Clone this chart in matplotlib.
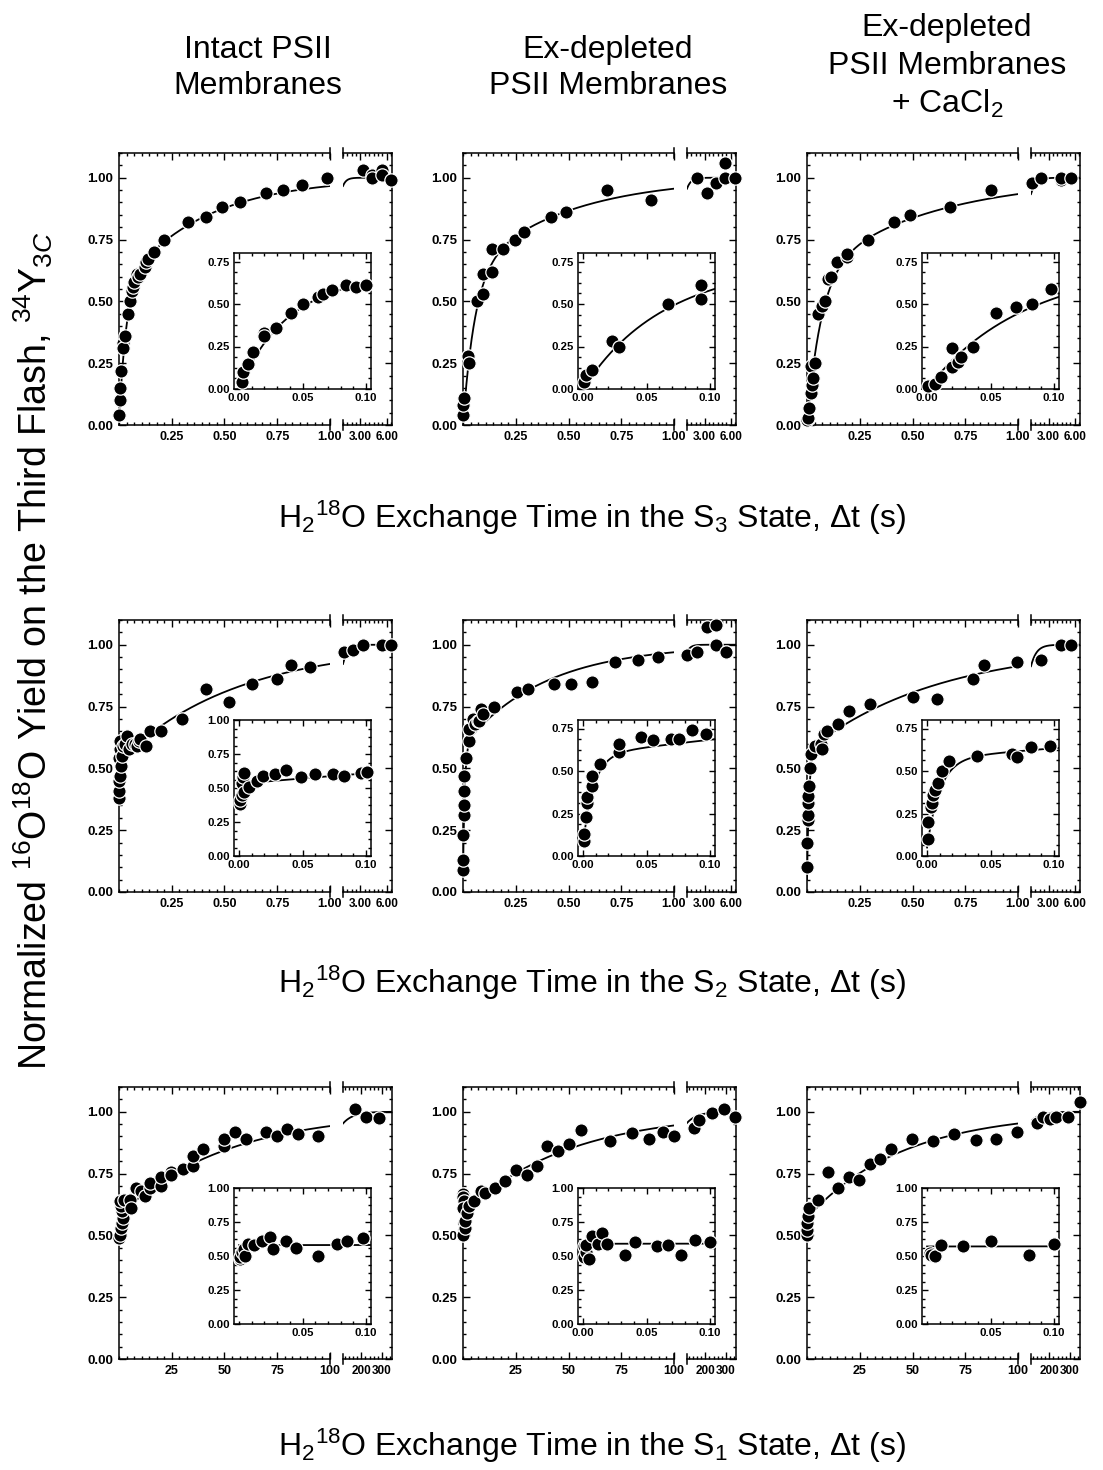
import matplotlib
matplotlib.use("Agg")
from matplotlib import pyplot as plt
from matplotlib.ticker import MultipleLocator
import numpy as np

plt.rcParams["font.family"] = ["Liberation Sans", "DejaVu Sans"]
plt.rcParams["mathtext.fontset"] = "custom"
plt.rcParams["mathtext.rm"] = "Liberation Sans"
plt.rcParams["mathtext.it"] = "Liberation Sans:italic"
plt.rcParams["mathtext.bf"] = "Liberation Sans:bold"

# ---- data ----
# S3 state, intact PSII
s3_int_ins_t = [0.002, 0.003, 0.007, 0.011, 0.020, 0.020, 0.029, 0.041, 0.050, 0.062, 0.066, 0.073, 0.084, 0.092, 0.100]
s3_int_ins_y = [0.04, 0.10, 0.15, 0.22, 0.33, 0.31, 0.36, 0.45, 0.50, 0.54, 0.56, 0.58, 0.61, 0.60, 0.61]
s3_int_t = [0.122, 0.130, 0.138, 0.165, 0.212, 0.328, 0.410, 0.490, 0.573, 0.696, 0.778, 0.869, 0.987,
            3.24, 4.36, 4.36, 5.44, 5.44, 6.52]
s3_int_y = [0.64, 0.66, 0.67, 0.70, 0.75, 0.82, 0.84, 0.88, 0.90, 0.94, 0.95, 0.97, 1.00,
            1.03, 1.01, 1.00, 1.03, 1.01, 0.99]
# S3 state, Ex-depleted
s3_ex_ins_t = [0.001, 0.002, 0.007, 0.023, 0.028, 0.067, 0.093, 0.093]
s3_ex_ins_y = [0.04, 0.08, 0.11, 0.28, 0.25, 0.50, 0.61, 0.53]
s3_ex_t = [0.138, 0.138, 0.190, 0.245, 0.291, 0.415, 0.489, 0.684, 0.889,
           2.16, 3.24, 4.28, 5.36, 5.36, 6.52]
s3_ex_y = [0.62, 0.71, 0.71, 0.75, 0.78, 0.84, 0.86, 0.95, 0.91,
           1.00, 0.94, 0.98, 1.00, 1.06, 1.00]
# S3 state, Ex-depleted + CaCl2
s3_ca_ins_t = [0.001, 0.006, 0.011, 0.020, 0.020, 0.024, 0.027, 0.036, 0.054, 0.070, 0.083, 0.098]
s3_ca_ins_y = [0.02, 0.03, 0.07, 0.24, 0.13, 0.16, 0.19, 0.25, 0.45, 0.48, 0.50, 0.59]
s3_ca_t = [0.116, 0.142, 0.190, 0.190, 0.288, 0.411, 0.487, 0.677, 0.870,
           1.08, 2.18, 4.43, 4.43, 5.61]
s3_ca_y = [0.60, 0.66, 0.68, 0.69, 0.75, 0.82, 0.85, 0.88, 0.95,
           0.98, 1.00, 0.99, 1.00, 1.00]

# S2 state, intact PSII
s2_int_ins_t = [0.001, 0.001, 0.002, 0.002, 0.003, 0.004, 0.004, 0.008, 0.014, 0.019, 0.028, 0.037,
                0.049, 0.060, 0.074, 0.083, 0.096, 0.101]
s2_int_ins_y = [0.38, 0.41, 0.45, 0.54, 0.58, 0.47, 0.61, 0.51, 0.55, 0.59, 0.60, 0.63,
                0.58, 0.60, 0.60, 0.59, 0.61, 0.62]
s2_int_t = [0.13, 0.146, 0.20, 0.30, 0.41, 0.52, 0.63, 0.75, 0.815, 0.905,
            1.08, 2.16, 3.32, 5.44, 6.52]
s2_int_y = [0.59, 0.65, 0.65, 0.70, 0.82, 0.77, 0.84, 0.86, 0.92, 0.91,
            0.97, 0.98, 1.00, 1.00, 1.00]
# S2 state, Ex-depleted
s2_ex_ins_t = [0.001, 0.001, 0.002, 0.003, 0.003, 0.007, 0.007, 0.013, 0.028, 0.028, 0.046, 0.055,
               0.069, 0.076, 0.086, 0.097]
s2_ex_ins_y = [0.09, 0.13, 0.23, 0.31, 0.35, 0.41, 0.47, 0.54, 0.61, 0.66, 0.70, 0.68,
               0.69, 0.69, 0.74, 0.72]
s2_ex_t = [0.149, 0.256, 0.307, 0.43, 0.51, 0.61, 0.72, 0.83, 0.926,
           1.05, 2.16, 3.24, 4.32, 4.32, 5.48]
s2_ex_y = [0.75, 0.81, 0.82, 0.84, 0.84, 0.85, 0.93, 0.94, 0.95,
           0.96, 0.97, 1.07, 1.08, 1.00, 0.97]
# S2 state, Ex-depleted + CaCl2
s2_ca_ins_t = [0.001, 0.001, 0.003, 0.004, 0.005, 0.006, 0.009, 0.012, 0.017, 0.039, 0.067, 0.071, 0.082, 0.097]
s2_ca_ins_y = [0.10, 0.20, 0.29, 0.31, 0.36, 0.39, 0.43, 0.50, 0.56, 0.59, 0.60, 0.58, 0.64, 0.65]
s2_ca_t = [0.147, 0.198, 0.30, 0.50, 0.617, 0.786, 0.839, 0.997, 2.18, 4.43, 5.54]
s2_ca_y = [0.68, 0.73, 0.76, 0.79, 0.78, 0.86, 0.92, 0.93, 0.94, 1.00, 1.00]

# S1 state, intact PSII
s1_int_t = [0.2, 0.3, 0.8, 1.6, 2.1, 1.6, 1.1, 0.6, 2.4, 5.1, 5.9, 7.9, 10.3, 12.2, 14.9, 14.9,
            19.8, 19.8, 24.8, 24.8, 30.1, 35.1, 35.1, 39.9, 49.8, 49.8, 54.9, 60.0, 69.6, 74.7,
            79.7, 85.0, 94.5, 168, 223, 287]
s1_int_y = [0.49, 0.50, 0.53, 0.55, 0.57, 0.60, 0.62, 0.64, 0.645, 0.645, 0.61, 0.69, 0.68, 0.66,
            0.69, 0.71, 0.70, 0.735, 0.755, 0.745, 0.77, 0.78, 0.82, 0.85, 0.86, 0.89, 0.92, 0.89,
            0.92, 0.90, 0.93, 0.91, 0.90, 1.01, 0.98, 0.975]
s1_int_ins_t = [0.001, 0.001, 0.002, 0.004, 0.005, 0.007, 0.012, 0.018, 0.024, 0.027, 0.037, 0.045,
                0.062, 0.077, 0.085, 0.098]
s1_int_ins_y = [0.48, 0.49, 0.53, 0.55, 0.50, 0.59, 0.58, 0.61, 0.64, 0.55, 0.61, 0.56,
                0.50, 0.59, 0.61, 0.63]
# S1 state, Ex-depleted
s1_ex_t = [0.1, 0.1, 0.3, 0.2, 0.3, 0.3, 0.1, 0.8, 1.1, 1.9, 2.7, 5.1, 8.7, 10.3, 15.3, 20.1,
           25.2, 30.1, 35.1, 39.9, 44.9, 50.2, 56.0, 69.9, 79.9, 88.1, 94.9, 100.0,
           143, 168, 231, 289, 345]
s1_ex_y = [0.668, 0.655, 0.64, 0.61, 0.55, 0.52, 0.50, 0.53, 0.56, 0.59, 0.62, 0.64, 0.68, 0.67,
           0.69, 0.72, 0.765, 0.745, 0.78, 0.86, 0.84, 0.87, 0.925, 0.88, 0.915, 0.89, 0.92, 0.90,
           0.935, 0.965, 0.995, 1.01, 0.98]
s1_ex_ins_t = [0.001, 0.001, 0.002, 0.002, 0.005, 0.007, 0.012, 0.015, 0.019, 0.033, 0.041, 0.058,
               0.067, 0.077, 0.088, 0.100]
s1_ex_ins_y = [0.57, 0.49, 0.53, 0.58, 0.48, 0.65, 0.59, 0.67, 0.59, 0.51, 0.60, 0.57,
               0.58, 0.51, 0.62, 0.60]
# S1 state, Ex-depleted + CaCl2
s1_ca_t = [0.1, 0.1, 0.2, 0.5, 0.8, 5.1, 9.8, 14.7, 19.8, 24.8, 29.7, 34.8, 39.9, 49.8, 59.7,
           69.6, 79.9, 89.4, 99.4, 140, 169, 203, 232, 293, 348]
s1_ca_y = [0.50, 0.52, 0.55, 0.58, 0.61, 0.645, 0.755, 0.69, 0.735, 0.725, 0.79, 0.81, 0.85, 0.89,
           0.88, 0.91, 0.885, 0.89, 0.92, 0.955, 0.98, 0.97, 0.98, 0.98, 1.04]
s1_ca_ins_t = [0.002, 0.003, 0.006, 0.011, 0.028, 0.050, 0.080, 0.100]
s1_ca_ins_y = [0.52, 0.51, 0.50, 0.58, 0.57, 0.61, 0.51, 0.585]

# fitted exchange kinetics: offset, amplitudes, rate constants (1/s)
fit_offset = [[0.0, 0.0, 0.0], [0.38, 0.07, 0.05], [0.58, 0.59, 0.57]]
fit_amps = [[[0.55, 0.45], [0.60, 0.40], [0.60, 0.40]],
            [[0.15, 0.47], [0.52, 0.41], [0.52, 0.43]],
            [[0.42], [0.41], [0.43]]]
fit_rates = [[[30, 2.6], [18, 2.2], [15, 1.8]],
             [[400, 1.8], [120, 2.6], [100, 1.6]],
             [[0.0198], [0.020], [0.022]]]

main_t = [[s3_int_t, s3_ex_t, s3_ca_t], [s2_int_t, s2_ex_t, s2_ca_t], [s1_int_t, s1_ex_t, s1_ca_t]]
main_y = [[s3_int_y, s3_ex_y, s3_ca_y], [s2_int_y, s2_ex_y, s2_ca_y], [s1_int_y, s1_ex_y, s1_ca_y]]
ins_t = [[s3_int_ins_t, s3_ex_ins_t, s3_ca_ins_t], [s2_int_ins_t, s2_ex_ins_t, s2_ca_ins_t],
         [s1_int_ins_t, s1_ex_ins_t, s1_ca_ins_t]]
ins_y = [[s3_int_ins_y, s3_ex_ins_y, s3_ca_ins_y], [s2_int_ins_y, s2_ex_ins_y, s2_ca_ins_y],
         [s1_int_ins_y, s1_ex_ins_y, s1_ca_ins_y]]
ins_shared = [True, True, False]   # inset points also shown in main panel
ins_ymax = [[0.8, 0.8, 0.8], [1.0, 0.8, 0.8], [1.0, 1.0, 1.0]]
ins_xticks = [[[0, 0.05, 0.10]] * 3, [[0, 0.05, 0.10]] * 3,
              [[0.05, 0.10], [0, 0.05, 0.10], [0.05, 0.10]]]

left_lim = [(0, 1.0), (0, 1.0), (0, 100)]
left_ticks = [[0.25, 0.5, 0.75, 1.0], [0.25, 0.5, 0.75, 1.0], [25, 50, 75, 100]]
right_lim = [(1.0, 6.6), (1.0, 6.6), (110, 350)]
right_ticks = [[3, 6], [3, 6], [200, 300]]
tick_fmt = ["{:.2f}", "{:.2f}", "{:.0f}"]

col_titles = [["Intact PSII", "Membranes"], ["Ex-depleted", "PSII Membranes"],
              ["Ex-depleted", "PSII Membranes", "+ CaCl$_2$"]]
states = ["3", "2", "1"]

# ---- layout in pixels ----
W, H = 1103, 1470
col_x = [119, 463, 807]
row_y = [153, 620, 1087]
seg_w, gap, right_w, panel_h = 211, 13, 49, 272
ins_x = [234, 578, 922]
ins_y0 = [253, 720, 1188]
ins_w, ins_h = 137, 136


def rect(x0, y0, w, h):
    return [x0 / W, 1 - (y0 + h) / H, w / W, h / H]


def fit(r, c, t):
    t = np.asarray(t, dtype=float)
    y = np.full_like(t, fit_offset[r][c])
    for a, k in zip(fit_amps[r][c], fit_rates[r][c]):
        y += a * (1 - np.exp(-k * t))
    return y


dot = dict(ls="none", marker="o", ms=9.6, mfc="black", mec="white", mew=0.9, clip_on=False, zorder=4)
yt = [0, 0.25, 0.5, 0.75, 1.0]
ylab = ["{:.2f}".format(v) for v in yt]
fs_y, fs_x, fs_xr, fs_ins, fs_text = 9.5, 9, 8.5, 8.2, 23

fig = plt.figure(figsize=(W / 100, H / 100), dpi=100)

for r in range(3):
    for c in range(3):
        x0, y0 = col_x[c], row_y[r]
        t_all = list(main_t[r][c])
        y_all = list(main_y[r][c])
        if ins_shared[r]:
            t_all = list(ins_t[r][c]) + t_all
            y_all = list(ins_y[r][c]) + y_all
        t_all = np.array(t_all)
        y_all = np.array(y_all)
        lo, hi = left_lim[r]

        # left (linear) segment
        axl = fig.add_axes(rect(x0, y0, seg_w, panel_h))
        axl.set_xlim(lo, hi)
        axl.set_ylim(0, 1.1)
        axl.spines["right"].set_visible(False)
        tt = np.linspace(lo, hi, 4000)
        axl.plot(tt, fit(r, c, tt), color="black", lw=1.3, zorder=3)
        m = t_all <= hi
        axl.plot(t_all[m], y_all[m], **dot)
        axl.set_yticks(yt, ylab, fontsize=fs_y, fontweight="bold")
        axl.set_xticks(left_ticks[r], [tick_fmt[r].format(v) for v in left_ticks[r]],
                       fontsize=fs_x, fontweight="bold")
        axl.yaxis.set_minor_locator(MultipleLocator(0.05))
        axl.xaxis.set_minor_locator(MultipleLocator(left_ticks[r][0] / 7))
        axl.tick_params(which="both", direction="in", top=True, right=False, width=1.0, pad=4)
        axl.tick_params(which="major", length=5)
        axl.tick_params(which="minor", length=2.5)
        for s in axl.spines.values():
            s.set_linewidth(1.1)
        for yb in [(-0.02, 0.02), (0.98, 1.02)]:
            axl.plot([1, 1], yb, color="black", lw=1.1, transform=axl.transAxes, clip_on=False)

        # right (long-time) segment
        rlo, rhi = right_lim[r]
        axr = fig.add_axes(rect(x0 + seg_w + gap, y0, right_w, panel_h))
        axr.set_xlim(rlo, rhi)
        axr.set_ylim(0, 1.1)
        axr.spines["left"].set_visible(False)
        tt = np.linspace(rlo, rhi, 400)
        axr.plot(tt, fit(r, c, tt), color="black", lw=1.3, zorder=3)
        m = t_all > hi
        axr.plot(t_all[m], y_all[m], **dot)
        axr.set_yticks(yt, [])
        axr.yaxis.set_minor_locator(MultipleLocator(0.05))
        axr.set_xticks(right_ticks[r], [tick_fmt[r].format(v) for v in right_ticks[r]],
                       fontsize=fs_xr, fontweight="bold")
        axr.xaxis.set_minor_locator(MultipleLocator(0.5 if r < 2 else 20))
        axr.tick_params(which="both", direction="in", top=True, left=False, right=True,
                        labelleft=False, width=1.0, pad=4)
        axr.tick_params(which="major", length=5)
        axr.tick_params(which="minor", length=2.5)
        for s in axr.spines.values():
            s.set_linewidth(1.1)
        for yb in [(-0.02, 0.02), (0.98, 1.02)]:
            axr.plot([0, 0], yb, color="black", lw=1.1, transform=axr.transAxes, clip_on=False)

        # inset: first 100 ms
        axi = fig.add_axes(rect(ins_x[c], ins_y0[r], ins_w, ins_h))
        axi.set_xlim(-0.004, 0.104)
        ymax = ins_ymax[r][c]
        axi.set_ylim(0, ymax)
        tt = np.linspace(0, 0.104, 2000)
        axi.plot(tt, fit(r, c, tt), color="black", lw=1.3, zorder=3)
        axi.plot(ins_t[r][c], ins_y[r][c], **dot)
        iyt = [v for v in yt if v <= ymax + 1e-9]
        axi.set_yticks(iyt, ["{:.2f}".format(v) for v in iyt], fontsize=fs_ins, fontweight="bold")
        xt = ins_xticks[r][c]
        axi.set_xticks(xt, ["{:.2f}".format(v) for v in xt], fontsize=fs_ins, fontweight="bold")
        axi.xaxis.set_minor_locator(MultipleLocator(0.01))
        axi.yaxis.set_minor_locator(MultipleLocator(0.0625))
        axi.tick_params(which="both", direction="in", top=True, right=True, width=1.0, pad=3)
        axi.tick_params(which="major", length=4.5)
        axi.tick_params(which="minor", length=2.5)
        for s in axi.spines.values():
            s.set_linewidth(1.1)

# column titles
title_cx = [258, 608, 947]
for c in range(3):
    lines = col_titles[c]
    ys = [50, 86] if len(lines) == 2 else [28, 66, 104]
    for txt, yy in zip(lines, ys):
        fig.text(title_cx[c] / W, 1 - yy / H, txt, ha="center", va="center", fontsize=fs_text)

# row x-labels
for r, yy in zip(range(3), [518, 983, 1446]):
    fig.text(592 / W, 1 - yy / H,
             "H$_2$$^{18}$O Exchange Time in the S$_" + states[r] + "$ State, \u0394t (s)",
             ha="center", va="center", fontsize=fs_text)

fig.text(33 / W, 1 - 651 / H,
         "Normalized $^{16}$O$^{18}$O Yield on the Third Flash, $^{34}$Y$_{3C}$",
         rotation=90, ha="center", va="center", fontsize=27)

fig.savefig("out.png", dpi=100)
